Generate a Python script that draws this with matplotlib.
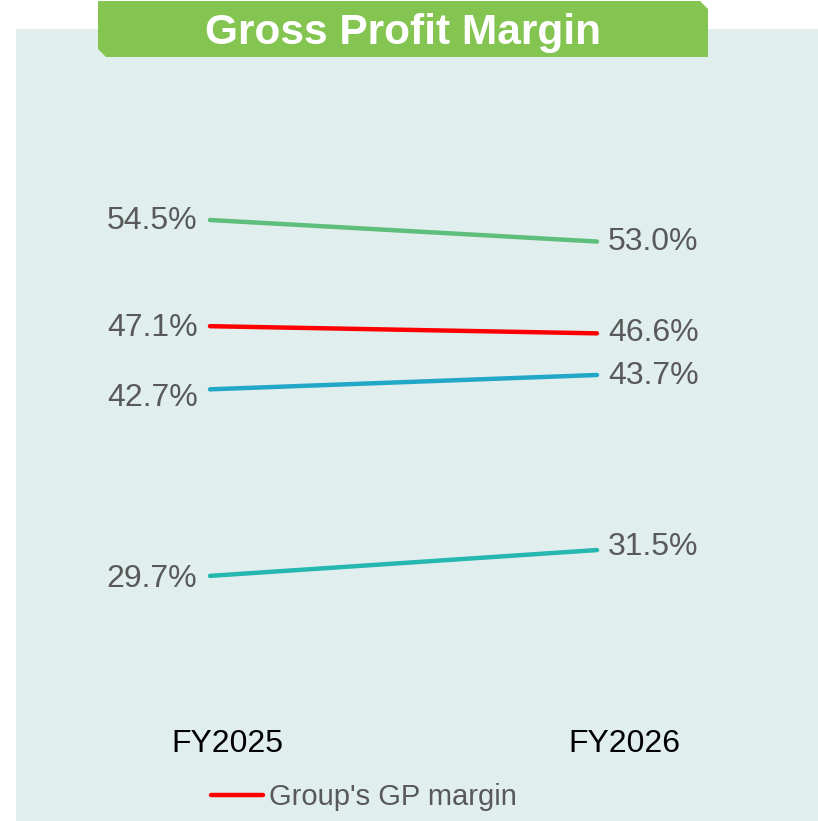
import matplotlib.pyplot as plt
from matplotlib.patches import Rectangle, Polygon

plt.rcParams['font.family'] = ['Liberation Sans', 'DejaVu Sans']

years = ['FY2025', 'FY2026']
seg_a = [54.5, 53.0]
group_gp = [47.1, 46.6]
seg_b = [42.7, 43.7]
seg_c = [29.7, 31.5]

W, H = 818, 821
fig = plt.figure(figsize=(W / 100, H / 100), dpi=100)

# background panel and title banner (figure pixel coords -> fractions)
def fx(px):
    return px / W

def fy(py):
    return 1 - py / H

fig.patches.append(Rectangle((fx(16), 0), fx(818) - fx(16), fy(29), transform=fig.transFigure,
                             facecolor='#e0eeee', edgecolor='none', zorder=0))
banner = [(98, 1), (700, 1), (708, 9), (708, 57), (106, 57), (98, 49)]
fig.patches.append(Polygon([(fx(x), fy(y)) for x, y in banner], closed=True,
                           transform=fig.transFigure, facecolor='#84c551',
                           edgecolor='none', zorder=1))
fig.text(fx(403), fy(33), 'Gross Profit Margin', color='white', fontsize=30.5,
         fontweight='bold', ha='center', va='center', zorder=3)

ax = fig.add_axes([0, 0, 1, 1], zorder=2)
ax.set_facecolor('none')
ax.axis('off')
# x: 0 -> px 210, 1 -> px 597 ; y: 54.5 -> py 220, 14.35 px per point
ppx = 387
ppy = 14.35
ax.set_xlim(-210 / ppx, (W - 210) / ppx)
ax.set_ylim(54.5 - (H - 220) / ppy, 54.5 + 220 / ppy)

xs = [0, 1]
series = [(seg_a, '#5dbf7b'), (group_gp, '#ff0000'), (seg_b, '#21a8c6'), (seg_c, '#26b8b0')]
handles = []
for vals, col in series:
    ln, = ax.plot(xs, vals, color=col, lw=3.2, solid_capstyle='round')
    handles.append(ln)

txt = '#595959'
# left / right value labels with small vertical nudges (points)
left_off = [-1, -1, -6, -2]
right_off = [0, 0, -1, 2]
for (vals, col), lo, ro in zip(series, left_off, right_off):
    ax.annotate(f'{vals[0]:.1f}%', (0, vals[0]), xytext=(-9, lo), textcoords='offset points',
                ha='right', va='center', fontsize=23, color=txt)
    ax.annotate(f'{vals[1]:.1f}%', (1, vals[1]), xytext=(8, ro), textcoords='offset points',
                ha='left', va='center', fontsize=23, color=txt)

for i, lab in enumerate(years):
    ax.text(i + (17 if i == 0 else 27) / ppx, 54.5 - (744 - 220) / ppy, lab,
            ha='center', va='center', fontsize=23, color='black')

ax.legend(handles=[handles[1]], labels=["Group's GP margin"], loc='center left',
          bbox_to_anchor=(fx(202), fy(797)), frameon=False, fontsize=21,
          labelcolor=txt, handlelength=1.8, handletextpad=0.2, borderaxespad=0,
          borderpad=0.3)

fig.savefig('out.png', dpi=100)
